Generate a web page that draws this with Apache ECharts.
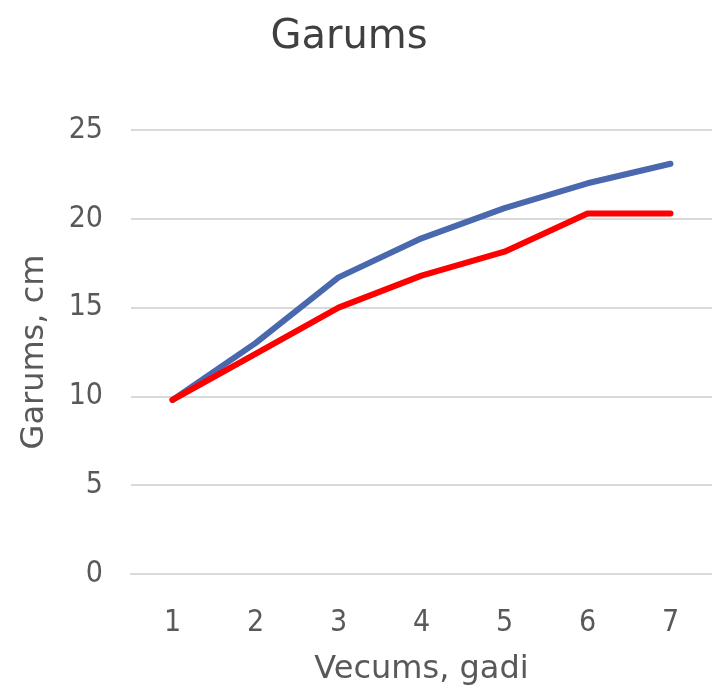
<!DOCTYPE html>
<html>
<head>
<meta charset="utf-8">
<script src="https://cdn.jsdelivr.net/npm/echarts@6/dist/echarts.min.js"></script>
<style>
  html, body { margin: 0; padding: 0; background: #fff; }
  #chart { width: 712px; height: 692px; }
</style>
</head>
<body>
<div id="chart"></div>
<script>
// chart data
const ages = ['1', '2', '3', '4', '5', '6', '7'];
const blueLengths = [9.8, 13.0, 16.7, 18.9, 20.6, 22.0, 23.1];
const redLengths = [9.8, 12.4, 15.0, 16.8, 18.15, 20.3, 20.3];

const font = 'DejaVu Sans';
const tickFont = 'DejaVu Sans Condensed';
const gray = '#595959';

var myChart = echarts.init(document.getElementById('chart'));

var option = {
  animation: false,
  title: {
    text: 'Garums',
    left: 344,
    textAlign: 'center',
    top: 13,
    textStyle: { fontFamily: font, fontSize: 40, fontWeight: 'normal', color: '#404040' },
  },
  grid: { left: 131, top: 130, width: 584, height: 444 },
  xAxis: {
    type: 'category',
    data: ages,
    boundaryGap: true,
    name: 'Vecums, gadi',
    nameLocation: 'middle',
    nameGap: 80,
    nameTextStyle: { fontFamily: font, fontSize: 32, color: gray },
    axisLine: { show: true, lineStyle: { color: '#d9d9d9', width: 2 } },
    axisTick: { show: false },
    axisLabel: { fontFamily: tickFont, fontSize: 30, color: gray, margin: 34 },
  },
  yAxis: {
    type: 'value',
    min: 0,
    max: 25,
    interval: 5,
    name: 'Garums, cm',
    nameLocation: 'middle',
    nameGap: 80,
    nameTextStyle: { fontFamily: font, fontSize: 32, color: gray },
    axisLine: { show: false },
    axisTick: { show: false },
    axisLabel: { fontFamily: tickFont, fontSize: 30, color: gray, margin: 28 },
    splitLine: { lineStyle: { color: '#d9d9d9', width: 2 } },
  },
  series: [
    {
      type: 'line',
      data: blueLengths,
      symbol: 'none',
      lineStyle: { color: '#4a68ad', width: 6, cap: 'round' },
      z: 2,
    },
    {
      type: 'line',
      data: redLengths,
      symbol: 'none',
      lineStyle: { color: '#ff0000', width: 6, cap: 'round' },
      z: 3,
    },
  ],
};

myChart.setOption(option);
</script>
</body>
</html>
